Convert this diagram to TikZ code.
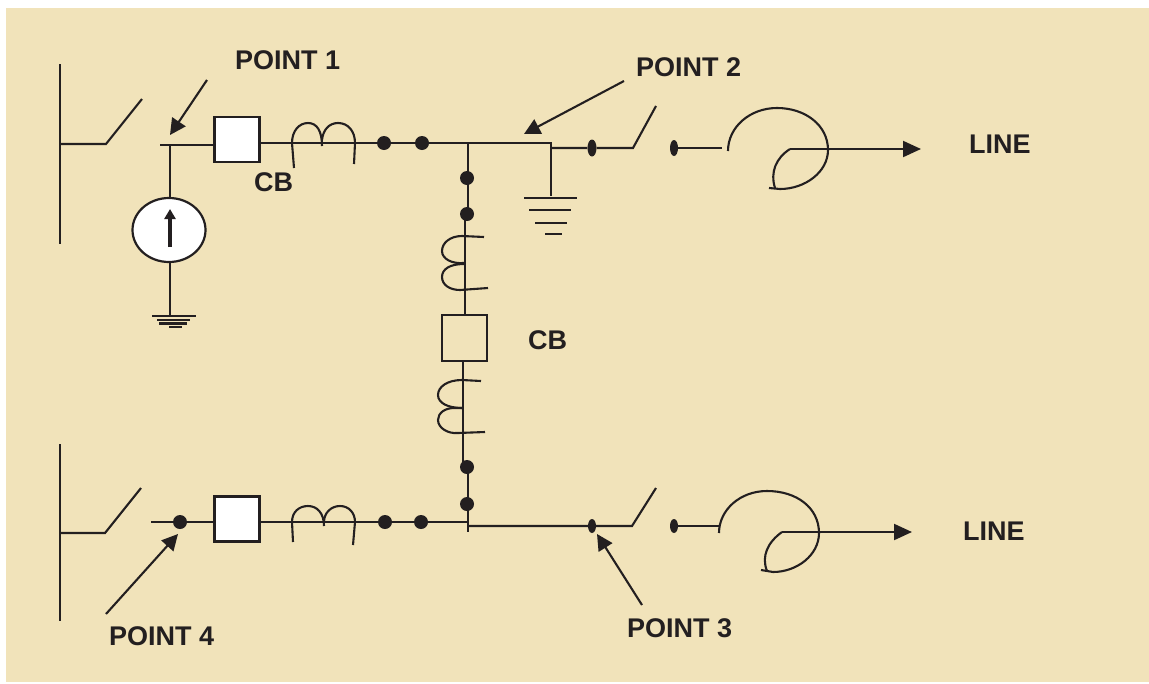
\documentclass[tikz,border=0pt]{standalone}
\usepackage{fontspec}
\setmainfont{Liberation Sans}
\usetikzlibrary{arrows.meta,shapes.geometric}
\definecolor{ink}{HTML}{231F20}
\definecolor{panel}{HTML}{F1E3BA}
\tikzset{
  wire/.style={draw=ink,line width=2.1pt},
  lbl/.style={text=ink,font=\fontsize{27}{30}\selectfont\bfseries,inner sep=0pt,anchor=base west},
  dotnode/.style={circle,fill=ink,inner sep=0pt,minimum size=14pt},
  lens/.style={ellipse,fill=ink,inner sep=0pt,minimum width=9pt,minimum height=17pt},
  cbbox/.style={draw=ink,line width=2.2pt,fill=white,inner sep=0pt,minimum width=45pt,minimum height=45pt},
  cbopen/.style={draw=ink,line width=2.2pt,inner sep=0pt,minimum width=45pt,minimum height=46pt},
  pointer/.style={draw=ink,line width=2.1pt,-{Triangle[length=16pt,width=16pt]}},
  outarrow/.style={draw=ink,line width=2.1pt,-{Triangle[length=18pt,width=16pt]}},
  groundbar/.style={draw=ink,line width=2.1pt}
}
\begin{document}
\begin{tikzpicture}[x=1pt,y=-1pt]
\useasboundingbox (0,0) rectangle (1149,683);
\fill[white] (0,0) rectangle (1149,683);
\fill[panel] (6,8) rectangle (1149,682);

% --- labels
\node[lbl] (p1) at (235,69) {POINT 1};
\node[lbl] (p2) at (636,76) {POINT 2};
\node[lbl] (p3) at (627,637) {POINT 3};
\node[lbl] (p4) at (109,645) {POINT 4};
\node[lbl] (cb1) at (254,191) {CB};
\node[lbl] (cb2) at (528,349) {CB};
\node[lbl] (l1) at (969,153) {LINE};
\node[lbl] (l2) at (963,540) {LINE};

% --- coordinates
\coordinate (bus1a) at (60,64);
\coordinate (bus1b) at (60,244);
\coordinate (bus1s) at (60,144);
\coordinate (sw1a) at (106,144);
\coordinate (sw1b) at (142,99);
\coordinate (w1l) at (160,145);
\coordinate (w1j) at (170,145);
\coordinate (gnd1) at (170,316);
\coordinate (junc) at (468,143);
\coordinate (corner) at (551,143);
\coordinate (gnd2) at (551,196);
\coordinate (w2a) at (551,148);
\coordinate (sw2a) at (633,148);
\coordinate (sw2b) at (656,106);
\coordinate (w2b) at (722,148);
\coordinate (bus2a) at (60,444);
\coordinate (bus2b) at (60,621);
\coordinate (bus2s) at (60,533);
\coordinate (sw4a) at (105,533);
\coordinate (sw4b) at (141,488);
\coordinate (w4l) at (151,522);
\coordinate (junc2) at (468,522);
\coordinate (junc2b) at (468,532);
\coordinate (w3l) at (468,526);
\coordinate (sw3a) at (632,526);
\coordinate (sw3b) at (656,488);
\coordinate (w3b) at (719,526);

% --- nodes on the wires
\node[cbbox] (cbA) at (237,139.5) {};
\node[cbbox] (cbD) at (237,519) {};
\node[cbopen] (cbV) at (464.5,338) {};
\node[draw=ink,line width=2.2pt,fill=white,ellipse,inner sep=0pt,minimum width=73pt,minimum height=64pt] (src) at (169,230) {};
\node[dotnode] (d1) at (384,143) {};
\node[dotnode] (d2) at (422,143) {};
\node[dotnode] (d3) at (467,178) {};
\node[dotnode] (d4) at (467,214) {};
\node[dotnode] (d5) at (467,467) {};
\node[dotnode] (d6) at (467,504) {};
\node[dotnode] (d7) at (385,522) {};
\node[dotnode] (d8) at (421,522) {};
\node[dotnode] (d9) at (180,522) {};
\node[lens] (e1) at (592,148) {};
\node[lens,minimum width=8pt,minimum height=16pt] (e2) at (674,148) {};
\node[lens,minimum width=8pt,minimum height=14pt] (e3) at (592,526) {};
\node[lens,minimum width=8pt,minimum height=14pt] (e4) at (674,526) {};

% --- buses and switches
\draw[wire] (bus1a) -- (bus1b);
\draw[wire] (bus1s) -- (sw1a) -- (sw1b);
\draw[wire] (bus2a) -- (bus2b);
\draw[wire] (bus2s) -- (sw4a) -- (sw4b);

% --- top line
\draw[wire] (w1l) -- (cbA.west |- w1l);
\draw[wire] (w1j) -- (w1j |- src.north);
\draw[wire] (w1j |- src.south) -- (gnd1);
\draw[wire] (cbA.east |- d1) -- (d1) -- (d2) -- (junc) -- (corner) -- (gnd2);
\draw[wire] (w2a) -- (e1) -- (sw2a) -- (sw2b);
\draw[wire] (e2.center) -- (w2b);

% --- vertical branch
\draw[wire] (junc) -- (junc |- d4);
\draw[wire] (465,214) -- (465,315);
\draw[wire] (463,361) -- (463,467);
\draw[wire] (468,467) -- (junc2b);

% --- bottom line
\draw[wire] (w4l) -- (d9) -- (cbD.west |- w4l);
\draw[wire] (cbD.east |- w4l) -- (d7) -- (d8) -- (junc2);
\draw[wire] (w3l) -- (e3) -- (sw3a) -- (sw3b);
\draw[wire] (e4.center) -- (w3b);

% --- top inductor
\draw[wire] (294,168) -- (292,143)
  .. controls (292,131) and (299,123) .. (308,123)
  .. controls (317,123) and (322,131) .. (322,146);
\draw[wire] (322,140) .. controls (323,130) and (329,123) .. (338,123)
  .. controls (348,123) and (355,131) .. (355,143) -- (354,164);

% --- bottom inductor
\draw[wire] (293,542) -- (292,522)
  .. controls (292,512) and (299,506) .. (308,506)
  .. controls (317,506) and (324,513) .. (324,526);
\draw[wire] (324,522) .. controls (324,513) and (331,506) .. (340,506)
  .. controls (349,506) and (355,513) .. (355,522) -- (353,545);

% --- vertical inductors
\draw[wire] (484,237) -- (462,236)
  .. controls (450,236) and (442,243) .. (442,251)
  .. controls (442,259) and (452,264) .. (464,263);
\draw[wire] (464,264) .. controls (450,264) and (442,269) .. (442,277)
  .. controls (442,285) and (450,290) .. (460,290) -- (488,288);
\draw[wire] (481,381) -- (462,380)
  .. controls (447,380) and (438,387) .. (438,395)
  .. controls (438,403) and (448,408) .. (462,408);
\draw[wire] (462,408) -- (454,408) .. controls (445,408) and (438,413) .. (438,420)
  .. controls (438,428) and (448,434) .. (458,433) -- (485,432);

% --- cables
\draw[wire] (728,151) .. controls (728,127) and (750,108) .. (777,108)
  .. controls (805,108) and (828,125) .. (828,150)
  .. controls (828,172) and (805,189) .. (780,189) -- (769,188);
\draw[wire] (775,188) .. controls (770,172) and (776,158) .. (790,149);
\draw[outarrow] (790,149) -- (921,149);
\draw[wire] (719,533) .. controls (719,510) and (740,491) .. (767,491)
  .. controls (797,491) and (819,508) .. (819,533)
  .. controls (819,555) and (797,572) .. (773,572) -- (761,570);
\draw[wire] (767,571) .. controls (761,556) and (768,542) .. (782,532);
\draw[outarrow] (782,532) -- (912,532);

% --- grounds
\draw[groundbar] (152,316) -- (196,316);
\draw[groundbar] (157,320) -- (190,320);
\draw[groundbar] (159,323.5) -- (187,323.5);
\draw[groundbar] (169,327) -- (182,327);
\draw[groundbar] (524,198) -- (577,198);
\draw[groundbar] (529,210) -- (571,210);
\draw[groundbar] (535,223) -- (567,223);
\draw[groundbar] (545,234) -- (562,234);

% --- pointers
\coordinate (a1) at (207,80);  \coordinate (t1) at (170,135);
\coordinate (a2) at (624,81);  \coordinate (t2) at (524,134);
\coordinate (a3) at (642,605); \coordinate (t3) at (597,534);
\coordinate (a4) at (106,614); \coordinate (t4) at (178,534);
\draw[pointer] (a1) -- (t1);
\draw[pointer] (a2) -- (t2);
\draw[pointer] (a3) -- (t3);
\draw[pointer] (a4) -- (t4);

% --- source arrow
\draw[draw=ink,line width=4pt,-{Triangle[length=10pt,width=11pt]}] (170,247) -- (170,209);
\end{tikzpicture}
\end{document}
